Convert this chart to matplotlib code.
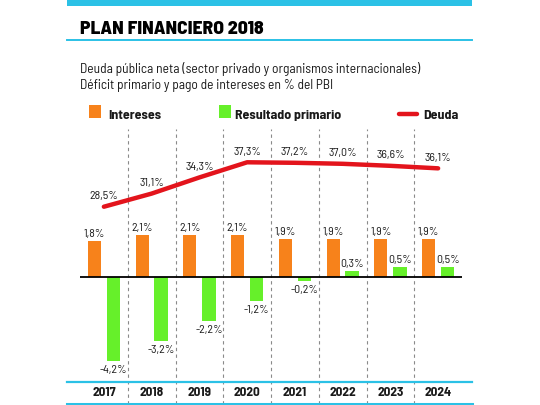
import matplotlib
matplotlib.use("Agg")
import matplotlib.pyplot as plt
from matplotlib.patches import Rectangle
from matplotlib.lines import Line2D

# data
years = ["2017", "2018", "2019", "2020", "2021", "2022", "2023", "2024"]
intereses = [1.8, 2.1, 2.1, 2.1, 1.9, 1.9, 1.9, 1.9]
resultado = [-4.2, -3.2, -2.2, -1.2, -0.2, 0.3, 0.5, 0.5]
deuda = [28.5, 31.1, 34.3, 37.3, 37.2, 37.0, 36.6, 36.1]

FONT = ["Barlow Semi Condensed", "Roboto Condensed", "DejaVu Sans"]
ORANGE = "#F7821B"
GREEN = "#66F02A"
RED = "#E3141C"
CYAN = "#2BC1E6"
TXT = "#1a1a1a"

W, H = 540, 405


def fx(px):
    return px / W


def fy(py):
    return 1 - py / H


def fmt(v):
    return ("%.1f" % v).replace(".", ",") + "%"


fig = plt.figure(figsize=(5.4, 4.05), dpi=100)
fig.patch.set_facecolor("white")

# axes area in pixels: x 80..462, y 129..404
ax = fig.add_axes([fx(80), fy(404), (462 - 80) / W, (404 - 129) / H])
ax2 = ax.twinx()
for a in (ax, ax2):
    a.set_axis_off()
ax.set_xlim(-0.5, len(years) - 0.5)
ax.set_ylim(-6.335, 7.415)
ax2.set_ylim(-10.56, 43.89)

x = list(range(len(years)))
xo = [i - 0.2 for i in x]
xg = [i + 0.2 for i in x]

# dashed separators
for i in range(len(years) - 1):
    ax.axvline(i + 0.5, color="#8a8a8a", lw=0.8, ls=(0, (3, 3)), zorder=1)

ax.bar(xo, intereses, width=0.27, color=ORANGE, zorder=2)
ax.bar(xg, resultado, width=0.28, color=GREEN, zorder=2)
ax.axhline(0, color="black", lw=1.3, zorder=3)

for xi, v in zip(xo, intereses):
    ax.annotate(fmt(v), (xi, v), xytext=(0, 1.5), textcoords="offset points",
                ha="center", va="bottom", fontsize=8.5, color=TXT, family=FONT)
for xi, v in zip(xg, resultado):
    if v >= 0:
        ax.annotate(fmt(v), (xi, v), xytext=(0, 2), textcoords="offset points",
                    ha="center", va="bottom", fontsize=8.5, color=TXT, family=FONT)
    else:
        ax.annotate(fmt(v), (xi, v), xytext=(0, -3), textcoords="offset points",
                    ha="center", va="top", fontsize=8.5, color=TXT, family=FONT)

ax2.plot(x, deuda, color=RED, lw=3.2, solid_capstyle="round", zorder=4)
for xi, v in zip(x, deuda):
    ax2.annotate(fmt(v), (xi, v), xytext=(0, 4), textcoords="offset points",
                 ha="center", va="bottom", fontsize=8.5, color=TXT, family=FONT)

# year labels
for xi, y in zip(x, years):
    ax.text(xi, 0.04, y, transform=ax.get_xaxis_transform(), ha="center",
            va="center", fontsize=9.5, fontweight="bold", color=TXT, family=FONT)

# cyan rules
fig.add_artist(Rectangle((fx(67), fy(6)), (472 - 67) / W, 6 / H,
                         transform=fig.transFigure, color=CYAN, lw=0))
for py, lw in [(39.5, 1.4), (381.7, 1.6), (403.5, 2.2)]:
    fig.add_artist(Line2D([fx(67), fx(472)], [fy(py), fy(py)],
                          transform=fig.transFigure, color=CYAN, lw=lw))

# title and subtitle
fig.text(fx(80), fy(34), "PLAN FINANCIERO 2018", fontsize=14, fontweight="heavy",
         color="black", family=FONT, va="baseline")
fig.text(fx(80), fy(73.5), "Deuda pública neta (sector privado y organismos internacionales)",
         fontsize=9.7, color=TXT, family=FONT, va="baseline")
fig.text(fx(80), fy(88.5), "Déficit primario y pago de intereses en % del PBI",
         fontsize=9.7, color=TXT, family=FONT, va="baseline")

# legend
fig.add_artist(Rectangle((fx(89), fy(117.5)), 12 / W, 12.5 / H,
                         transform=fig.transFigure, color=ORANGE, lw=0))
fig.text(fx(108), fy(119), "Intereses", fontsize=10, fontweight="bold",
         color=TXT, family=FONT, va="baseline")
fig.add_artist(Rectangle((fx(218.5), fy(118)), 12 / W, 13 / H,
                         transform=fig.transFigure, color=GREEN, lw=0))
fig.text(fx(235), fy(119), "Resultado primario", fontsize=10, fontweight="bold",
         color=TXT, family=FONT, va="baseline")
fig.add_artist(Line2D([fx(399), fx(417)], [fy(113.5), fy(113.5)],
                      transform=fig.transFigure, color=RED, lw=3.2,
                      solid_capstyle="round"))
fig.text(fx(423), fy(119), "Deuda", fontsize=10, fontweight="bold",
         color=TXT, family=FONT, va="baseline")

fig.savefig("out.png", dpi=100)
